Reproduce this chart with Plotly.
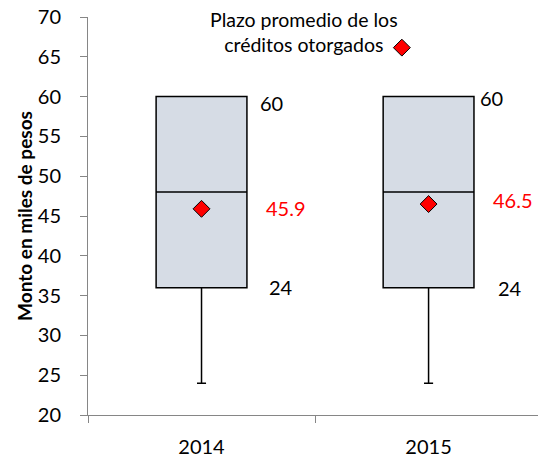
import plotly.graph_objects as go

years = ["2014", "2015"]
q1 = [36, 36]
median = [48, 48]
q3 = [60, 60]
lower = [24, 24]
upper = [60, 60]
means = [45.9, 46.5]

FONT = "Lato"

fig = go.Figure()
fig.add_trace(go.Box(
    x=years, q1=q1, median=median, q3=q3, lowerfence=lower, upperfence=upper,
    width=0.4, whiskerwidth=0.1, fillcolor="#D6DCE5",
    line=dict(color="black", width=1.5), showlegend=False, hoverinfo="skip",
))
fig.add_trace(go.Scatter(
    x=years, y=means, mode="markers", name="",
    marker=dict(symbol="diamond", size=13, color="#FF0000",
                line=dict(color="black", width=1)),
    showlegend=True,
))

# value labels (x given as category index)
q3_shift = [(70, -6), (63, -1)]
mean_shift = [(84, 1), (84, 4)]
low_shift = [(79, 1), (81, 0)]
for i, yr in enumerate(years):
    fig.add_annotation(x=i, y=q3[i], text=str(q3[i]), showarrow=False,
                       xshift=q3_shift[i][0], yshift=q3_shift[i][1],
                       font=dict(family=FONT, size=20, color="black"))
    fig.add_annotation(x=i, y=means[i], text=f"{means[i]:.1f}", showarrow=False,
                       xshift=mean_shift[i][0], yshift=mean_shift[i][1],
                       font=dict(family=FONT, size=20, color="#FF0000"))
    fig.add_annotation(x=i, y=q1[i], text=str(lower[i]), showarrow=False,
                       xshift=low_shift[i][0], yshift=low_shift[i][1],
                       font=dict(family=FONT, size=20, color="black"))

fig.add_annotation(xref="paper", yref="paper", x=0.48, y=0.962,
                   text="Plazo promedio de los<br>créditos otorgados",
                   showarrow=False, align="center", xanchor="center", yanchor="middle",
                   font=dict(family=FONT, size=19.5, color="black"))

fig.update_layout(
    width=538, height=458,
    margin=dict(l=88, r=0, t=17, b=43, autoexpand=False),
    plot_bgcolor="white", paper_bgcolor="white",
    font=dict(family=FONT, color="black"),
    showlegend=True,
    legend=dict(x=0.653, y=0.922, xanchor="left", yanchor="middle",
                bgcolor="rgba(0,0,0,0)", font=dict(size=14)),
    xaxis=dict(type="category", range=[-0.5, 1.482], showline=True, automargin=False,
               linecolor="#868686", linewidth=1, ticks="outside", tickson="boundaries",
               ticklen=7, tickcolor="#868686", showgrid=False, zeroline=False,
               tickfont=dict(family=FONT, size=20), ticklabelstandoff=14),
    yaxis=dict(range=[20, 70], dtick=5, showline=True, linecolor="#868686", automargin=False,
               linewidth=1, ticks="outside", ticklen=7, tickcolor="#868686",
               showgrid=False, zeroline=False, ticklabeloverflow="allow",
               tickfont=dict(family=FONT, size=20), ticklabelstandoff=15,
               title=dict(text="<b>Monto en miles de pesos</b>",
                          font=dict(family=FONT, size=19), standoff=0)),
)

fig.write_html("out.html", config={"displayModeBar": False},
               post_script="document.body.style.margin='0';document.body.style.overflow='hidden';")
